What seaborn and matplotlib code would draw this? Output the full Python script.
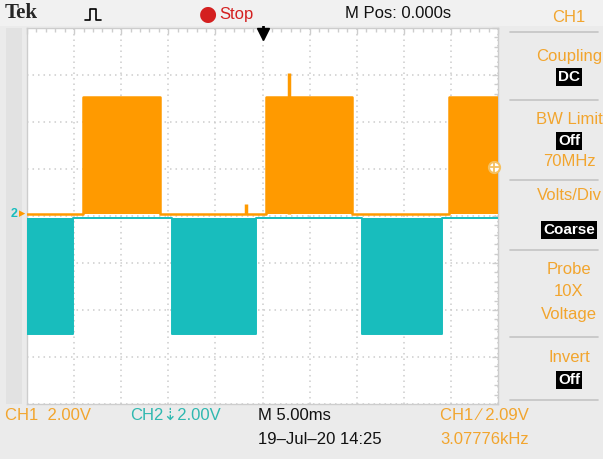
import numpy as np
import pandas as pd
import seaborn as sns
import matplotlib.pyplot as plt
from matplotlib.lines import Line2D

# ---- data (time in ms, level in V) ----
ch1_t = [-25.0, -19.05, -10.9, 0.35, 9.5, 19.8, 25.0]
ch1_v = [0.08, 5.06, 0.08, 5.06, 0.08, 5.06, 5.06]
ch2_t = [-25.0, -20.1, -9.6, -0.7, 10.55, 19.05, 25.0]
ch2_v = [-5.02, -0.08, -5.02, -0.08, -5.02, -0.08, -0.08]
spike_t = [-1.7, 2.8]
spike_v = [0.5, 6.1]
trig_level = 2.09

orange = '#FF9A00'
teal = '#18BDBD'
txt_or = '#F2A52E'
txt_teal = '#2FB8B0'
grid_c = '#cdcdcd'

sns.set_style('white')
plt.rcParams['font.family'] = ['Liberation Sans Narrow', 'Liberation Sans', 'DejaVu Sans']

fig = plt.figure(figsize=(6.03, 4.59), dpi=100)
fig.patch.set_facecolor('#ebebeb')

W, H = 603, 459
def fx(x): return x / W
def fy(y): return 1 - y / H

# header strip and left strip
fig.patches.append(plt.Rectangle((0, fy(26)), 1, 26 / H, transform=fig.transFigure,
                                 facecolor='#f1f1f1', edgecolor='none'))
fig.patches.append(plt.Rectangle((fx(6), fy(404)), 16 / W, 376 / H, transform=fig.transFigure,
                                 facecolor='#e2e2e2', edgecolor='none'))

ax = fig.add_axes([fx(27), fy(404), 471 / W, 376 / H])
ax.set_facecolor('white')

ch1 = pd.DataFrame({'t': ch1_t, 'v': ch1_v})
ch2 = pd.DataFrame({'t': ch2_t, 'v': ch2_v})

ax.fill_between(ch2['t'], -0.08, ch2['v'], step='post', color=teal, lw=0, zorder=3)
ax.fill_between(ch1['t'], 0.08, ch1['v'], step='post', color=orange, lw=0, zorder=4)
sns.lineplot(data=ch2, x='t', y='v', drawstyle='steps-post', color=teal, lw=1.4,
             ax=ax, zorder=3, estimator=None, sort=False)
sns.lineplot(data=ch1, x='t', y='v', drawstyle='steps-post', color=orange, lw=1.8,
             ax=ax, zorder=4, estimator=None, sort=False)
ax.vlines(spike_t, 0.08, spike_v, color=orange, lw=2.5, zorder=4)

ax.set_xlim(-25, 25)
ax.set_ylim(-8, 8)
ax.set_xticks(np.arange(-25, 26, 5))
ax.set_yticks(np.arange(-8, 9, 2))
ax.set_xticks(np.arange(-25, 26, 1), minor=True)
ax.set_yticks(np.arange(-8, 8.1, 0.4), minor=True)
ax.set_xticklabels([])
ax.set_yticklabels([])
ax.set_xlabel('')
ax.set_ylabel('')
ax.grid(True, which='major', color=grid_c, lw=1.1, linestyle=(0, (1, 2.6)), zorder=1)
ax.tick_params(which='both', direction='in', top=True, right=True, color=grid_c,
               length=4, width=1)
ax.tick_params(which='minor', length=3)
for s in ax.spines.values():
    s.set_color(grid_c)
    s.set_linewidth(1)

# trigger markers
ax.plot([0], [7.75], marker='v', color='black', ms=8, clip_on=False, zorder=6)
ax.plot([0, 0], [7.75, 8.1], color='black', lw=2, clip_on=False, zorder=6)
ax.plot([24.6], [trig_level], marker='o', mfc='white', mec='#f5c060', ms=8, mew=1.5,
        clip_on=False, zorder=6)
ax.plot([24.6], [trig_level], marker='+', color='#f5c060', ms=7, mew=1.3, clip_on=False, zorder=6)

# header
fig.text(fx(5), fy(13), 'Tek', fontsize=15, fontweight='bold',
         family=['Liberation Serif', 'DejaVu Serif'], va='center', ha='left')
fig.lines.append(Line2D([fx(85), fx(90), fx(90), fx(96), fx(96), fx(101)],
                        [fy(20), fy(20), fy(9), fy(9), fy(20), fy(20)],
                        transform=fig.transFigure, color='black', lw=1.2))
fig.text(fx(208), fy(14), '\u25cf', color='#d42020', fontsize=15, va='center', ha='center',
         family=['DejaVu Sans'])
fig.text(fx(219), fy(14), 'Stop', color='#d42020', fontsize=12, va='center', ha='left')
fig.text(fx(345), fy(14), 'M Pos: 0.000s', color='#111111', fontsize=12, va='center', ha='left')

# right menu panel
fig.text(fx(569), fy(17), 'CH1', color=txt_or, fontsize=12, va='center', ha='center')
menu = [('Coupling', 56), ('BW Limit', 120), ('70MHz', 161), ('Volts/Div', 196),
        ('Probe', 270), ('10X', 292), ('Voltage', 315), ('Invert', 357)]
for label, y in menu:
    fig.text(fx(569), fy(y), label, color=txt_or, fontsize=12, va='center', ha='center')
boxes = [('DC', 77), ('Off', 141), ('Coarse', 230), ('Off', 380)]
for label, y in boxes:
    fig.text(fx(569), fy(y), label, color='white', fontsize=11, va='center', ha='center',
             fontweight='bold', bbox=dict(facecolor='black', edgecolor='none', pad=1.2))
for y in [32, 100, 180, 250, 337, 400]:
    fig.lines.append(Line2D([fx(510), fx(598)], [fy(y), fy(y)], transform=fig.transFigure,
                            color='#c4c4c4', lw=1.2))

# ground markers
fig.text(fx(14), fy(214), '2', color=teal, fontsize=9, va='center', ha='center', fontweight='bold')
fig.text(fx(22), fy(214), '\u25b8', color=orange, fontsize=9, va='center', ha='center',
         family=['DejaVu Sans'])

# footer
fig.text(fx(5), fy(415), 'CH1  2.00V', color=txt_or, fontsize=12, va='center', ha='left')
fig.text(fx(130), fy(415), 'CH2\u21e32.00V', color=txt_teal, fontsize=12, va='center', ha='left',
         family=['Liberation Sans', 'DejaVu Sans'])
fig.text(fx(258), fy(415), 'M 5.00ms', color='#111111', fontsize=12, va='center', ha='left')
fig.text(fx(258), fy(439), '19\u2013Jul\u201320 14:25', color='#111111', fontsize=12,
         va='center', ha='left')
fig.text(fx(440), fy(415), 'CH1 \u2215 2.09V', color=txt_or, fontsize=12, va='center', ha='left')
fig.text(fx(440), fy(439), '3.07776kHz', color=txt_or, fontsize=12, va='center', ha='left')

fig.savefig('out.png', dpi=100, facecolor=fig.get_facecolor())
